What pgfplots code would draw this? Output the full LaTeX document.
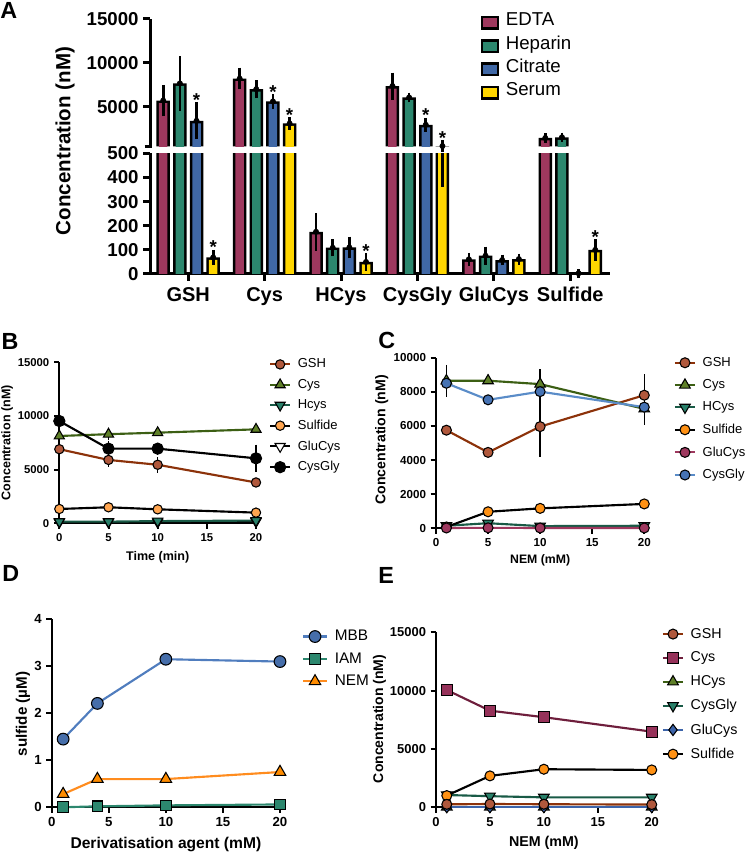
\documentclass[border=0pt]{standalone}
\usepackage{fontspec}
\setmainfont{Liberation Sans}
\usepackage{pgfplots}
\pgfplotsset{compat=1.18}
\usepackage{pgfplotstable}

\definecolor{edta}{RGB}{158,56,94}
\definecolor{hep}{RGB}{44,135,110}
\definecolor{cit}{RGB}{64,104,166}
\definecolor{ser}{RGB}{255,214,0}
\definecolor{gshF}{RGB}{176,88,60}
\definecolor{gshL}{RGB}{140,50,10}
\definecolor{cysF}{RGB}{95,128,40}
\definecolor{cysL}{RGB}{60,95,20}
\definecolor{hcyF}{RGB}{40,128,105}
\definecolor{hcyL}{RGB}{25,90,70}
\definecolor{sulB}{RGB}{255,165,80}
\definecolor{sulC}{RGB}{255,145,20}
\definecolor{glcF}{RGB}{158,56,94}
\definecolor{cgyF}{RGB}{70,115,180}
\definecolor{cgyL}{RGB}{90,140,200}
\definecolor{mbbF}{RGB}{70,110,170}
\definecolor{mbbL}{RGB}{80,125,190}
\definecolor{nemF}{RGB}{255,140,0}
\definecolor{nemL}{RGB}{255,140,30}
\definecolor{eCysF}{RGB}{150,50,90}
\definecolor{eCysL}{RGB}{110,30,60}
\definecolor{eGluF}{RGB}{60,100,170}

% Panel A: bar centres (category + offset), values and SD
\pgfplotstableread{
xe edta edtaE xh hep hepE xc cit citE xs ser serE
-0.327 5700 1300 -0.109 7650 2600 0.109 3400 1600 0.327 69 13
0.673 8200 750 0.891 7000 550 1.109 5600 320 1.327 3100 220
1.673 175 60 1.891 109 18 2.109 110 27 2.327 50 18
2.673 7350 1050 2.891 6050 80 3.109 2950 300 3.327 530 150
3.673 61 9 3.891 76 20 4.109 58 5 4.327 62 5
4.673 1450 50 4.891 1530 50 5.109 3 0 5.327 100 27
}\dataA

\pgfplotsset{
 base/.style={scale only axis, anchor=south west,
   axis x line*=bottom, axis y line*=left, tick align=outside,
   axis line style={line width=1.5pt,black},
   every tick/.append style={line width=1.5pt,black},
   major tick length=4pt,
   /pgf/number format/assume math mode=true,
   /pgf/number format/1000 sep={},
   scaled x ticks=false, scaled y ticks=false,
   clip=false, legend cell align=left},
 Ageom/.style={scale only axis, anchor=south west, xmin=-0.5, xmax=5.52, width=345pt},
 leg/.style n args={4}{legend style={at={(#1,#2)}, anchor=north west, draw=none, fill=none,
   inner xsep=0pt, inner ysep=0pt, nodes={inner sep=1pt}, row sep=#3, column sep=4pt,
   font=\fontsize{#4}{#4}\selectfont}},
 eb/.style={forget plot, only marks, mark=none, error bars/.cd, y dir=both, y explicit,
   error bar style={black, line width=1pt, solid},
   error mark options={black, line width=1pt, mark size=3pt}},
 ebA/.style={forget plot, only marks, mark=none, error bars/.cd, y dir=both, y explicit,
   error bar style={black, line width=2pt, solid},
   error mark options={black, line width=2pt, mark size=3.2pt}},
 % outline of a bar: a black bar underneath, the coloured bar narrower and lowered on top
 barOut/.style={forget plot, ybar, bar width=0.177, fill=black, draw=none},
 barIn/.style={ybar, bar width=0.111, fill=#1, draw=none, yshift=-1.9pt,
   legend image code/.code={\fill[black] (0pt,-5.25pt) rectangle (14pt,5.25pt);
     \fill[#1] (1.9pt,-3.35pt) rectangle (12.1pt,3.35pt);}},
 star/.style={forget plot, only marks, mark=none, nodes near coords={*},
   every node near coord/.style={anchor=south, inner sep=0pt, black,
   font=\bfseries\fontsize{14}{14}\selectfont}},
 pm/.style n args={5}{color=#1, line width=1.6pt, mark=#2, mark size=#3,
   mark options={fill=#4, draw=black, line width=0.8pt, solid, #5}},
}

\begin{document}
\begin{tikzpicture}
\path[use as bounding box] (0,0) rectangle (562.5pt,639.75pt);

% ---------------- Panel A (upper segment)
\begin{axis}[base, Ageom, at={(112.5pt,530pt)}, height=95.7pt,
  ymin=500, ymax=15000, ytick={5000,10000,15000},
  restrict y to domain=500:20000,
  hide x axis, clip=true,
  axis line style={line width=2.25pt}, every tick/.append style={line width=2.25pt},
  major tick length=5pt,
  yticklabel style={font=\bfseries\fontsize{14}{14}\selectfont},
  leg={0.718}{1.06}{3.6pt}{14}]
\addplot[barOut] table[x=xe, y=edta] {\dataA};
\addplot[barOut] table[x=xh, y=hep] {\dataA};
\addplot[barOut] table[x=xc, y=cit] {\dataA};
\addplot[barOut] table[x=xs, y=ser] {\dataA};
\addplot[barIn=edta] table[x=xe, y=edta] {\dataA};
\addlegendentry{EDTA}
\addplot[barIn=hep] table[x=xh, y=hep] {\dataA};
\addlegendentry{Heparin}
\addplot[barIn=cit] table[x=xc, y=cit] {\dataA};
\addlegendentry{Citrate}
\addplot[barIn=ser] table[x=xs, y=ser] {\dataA};
\addlegendentry{Serum}
\end{axis}
% upper segment: error bars and stars (not clipped)
\begin{axis}[Ageom, at={(112.5pt,530pt)}, height=95.7pt,
  ymin=500, ymax=15000, restrict y to domain=500:20000,
  hide x axis, hide y axis, clip=false]
\addplot[ebA] table[x=xe, y=edta, y error=edtaE] {\dataA};
\addplot[ebA] table[x=xh, y=hep, y error=hepE] {\dataA};
\addplot[ebA] table[x=xc, y=cit, y error=citE] {\dataA};
\addplot[ebA] table[x=xs, y=ser, y error=serE] {\dataA};
\addplot[star] coordinates {(0.109,5000) (1.109,5940) (1.327,3320) (3.109,3250) (3.327,680)};
\end{axis}

% ---------------- Panel A (lower segment)
\begin{axis}[base, Ageom, at={(112.5pt,434.25pt)}, height=90.4pt,
  ymin=0, ymax=500, ytick={0,100,200,300,400,500},
  xtick={0,1,2,3,4,5}, xticklabels={GSH,Cys,HCys,CysGly,GluCys,Sulfide},
  clip=true,
  axis line style={line width=2.25pt}, every tick/.append style={line width=2.25pt},
  major tick length=5pt,
  yticklabel style={font=\bfseries\fontsize{14}{14}\selectfont},
  xticklabel style={font=\bfseries\fontsize{15}{15}\selectfont, yshift=-1.5pt}]
\addplot[barOut] table[x=xe, y=edta] {\dataA};
\addplot[barOut] table[x=xh, y=hep] {\dataA};
\addplot[barOut] table[x=xc, y=cit] {\dataA};
\addplot[barOut] table[x=xs, y=ser] {\dataA};
\addplot[barIn=edta, forget plot] table[x=xe, y=edta] {\dataA};
\addplot[barIn=hep, forget plot] table[x=xh, y=hep] {\dataA};
\addplot[barIn=cit, forget plot] table[x=xc, y=cit] {\dataA};
\addplot[barIn=ser, forget plot] table[x=xs, y=ser] {\dataA};
\addplot[ebA] coordinates {(3.327,530) +- (0,150)};
\end{axis}
% lower segment: error bars and stars (not clipped)
\begin{axis}[Ageom, at={(112.5pt,434.25pt)}, height=90.4pt,
  ymin=0, ymax=500, restrict y to domain=0:500,
  hide x axis, hide y axis, clip=false]
\addplot[ebA] table[x=xe, y=edta, y error=edtaE] {\dataA};
\addplot[ebA] table[x=xh, y=hep, y error=hepE] {\dataA};
\addplot[ebA] table[x=xc, y=cit, y error=citE] {\dataA};
\addplot[ebA] table[x=xs, y=ser, y error=serE] {\dataA};
\addplot[star] coordinates {(0.327,82) (2.327,68) (5.327,127)};
\end{axis}
\draw[line width=2.25pt] (108.5pt,530pt) -- (114pt,530pt);
\node[rotate=90, font=\bfseries\fontsize{15.4}{16}\selectfont] at (48.75pt,534pt) {Concentration (nM)};
\node[anchor=north west, inner sep=0pt, font=\bfseries\fontsize{17.5}{18}\selectfont] at (0pt,638pt) {A};

% ---------------- Panel B
\begin{axis}[base, at={(44.5pt,247.3pt)}, width=147.5pt, height=120.75pt,
  xmin=0, xmax=20, ymin=0, ymax=15000, xtick={0,5,10,15,20}, ytick={0,5000,10000,15000},
  tick label style={font=\bfseries\fontsize{8.5}{9}\selectfont},
  xlabel={Time (min)}, ylabel={Concentration (nM)},
  label style={font=\bfseries\fontsize{9.4}{10}\selectfont},
  xlabel style={at={(axis description cs:0.5,-0.209)}, anchor=center},
  ylabel style={at={(axis description cs:-0.266,0.5)}, anchor=center},
  leg={1.065}{1.031}{5pt}{9.75},
  legend image code/.code={\draw[mark repeat=2,mark phase=2,#1] plot coordinates {(0pt,0pt) (7.5pt,0pt) (15pt,0pt)};}]
\addplot[eb] coordinates {(0,9525) +- (0,1100) (5,6950) +- (0,300) (10,6950) +- (0,200) (20,6050) +- (0,900)};
\addplot[eb] coordinates {(5,5900) +- (0,250) (10,5450) +- (0,350)};
\addplot[eb] coordinates {(5,8300) +- (0,200)};
\addplot[pm={gshL}{*}{3.5pt}{gshF}{}] coordinates {(0,6900) (5,5900) (10,5450) (20,3800)};
\addlegendentry{GSH}
\addplot[pm={cysL}{triangle*}{4.4pt}{cysF}{}] coordinates {(0,8130) (5,8300) (10,8440) (20,8750)};
\addlegendentry{Cys}
\addlegendimage{pm={hcyL}{triangle*}{4.4pt}{hcyF}{rotate=180}}
\addlegendentry{Hcys}
\addplot[pm={black}{*}{3.5pt}{sulB}{}] coordinates {(0,1330) (5,1490) (10,1300) (20,990)};
\addlegendentry{Sulfide}
\addplot[pm={black}{triangle*}{4.4pt}{white}{rotate=180}] coordinates {(0,100) (5,100) (10,100) (20,150)};
\addlegendentry{GluCys}
\addplot[pm={black}{*}{4.2pt}{black}{}] coordinates {(0,9525) (5,6950) (10,6950) (20,6050)};
\addlegendentry{CysGly}
\addplot[forget plot, pm={hcyL}{triangle*}{4.4pt}{hcyF}{rotate=180}] coordinates {(0,150) (5,150) (10,200) (20,250)};
\end{axis}
\node[anchor=north west, inner sep=0pt, font=\bfseries\fontsize{17.5}{18}\selectfont] at (1pt,390pt) {B};

% ---------------- Panel C
\begin{axis}[base, at={(327pt,243.5pt)}, width=156.2pt, height=128pt,
  xmin=0, xmax=20, ymin=0, ymax=10000, xtick={0,5,10,15,20}, ytick={0,2000,4000,6000,8000,10000},
  tick label style={font=\bfseries\fontsize{8.7}{9}\selectfont},
  xlabel={NEM (mM)}, ylabel={Concentration (nM)},
  xlabel style={font=\bfseries\fontsize{9.2}{10}\selectfont, at={(axis description cs:0.5,-0.186)}, anchor=center},
  ylabel style={font=\bfseries\fontsize{10.6}{11}\selectfont, at={(axis description cs:-0.261,0.518)}, anchor=center},
  leg={1.141}{1.012}{6.4pt}{9.75},
  legend image code/.code={\draw[mark repeat=2,mark phase=2,#1] plot coordinates {(0pt,0pt) (7.5pt,0pt) (15pt,0pt)};}]
\addplot[eb] coordinates {(1,8650) +- (0,700) (10,8450) +- (0,650) (20,7000) +- (0,700)};
\addplot[eb] coordinates {(10,5960) +- (0,1530) (20,7800) +- (0,1000)};
\addplot[eb] coordinates {(10,8010) +- (0,730)};
\addplot[pm={gshL}{*}{3.75pt}{gshF}{}] coordinates {(1,5750) (5,4450) (10,5960) (20,7800)};
\addlegendentry{GSH}
\addplot[pm={cysL}{triangle*}{4.6pt}{cysF}{}] coordinates {(1,8650) (5,8650) (10,8450) (20,7000)};
\addlegendentry{Cys}
\addplot[pm={hcyL}{triangle*}{4.6pt}{hcyF}{rotate=180}] coordinates {(1,150) (5,300) (10,130) (20,150)};
\addlegendentry{HCys}
\addplot[pm={black}{*}{3.75pt}{sulC}{}] coordinates {(1,80) (5,970) (10,1170) (20,1430)};
\addlegendentry{Sulfide}
\addplot[pm={glcF}{*}{3.75pt}{glcF}{}] coordinates {(1,20) (5,30) (10,20) (20,20)};
\addlegendentry{GluCys}
\addplot[pm={cgyL}{*}{3.75pt}{cgyF}{}] coordinates {(1,8500) (5,7530) (10,8010) (20,7100)};
\addlegendentry{CysGly}
\end{axis}
\node[anchor=north west, inner sep=0pt, font=\bfseries\fontsize{17.5}{18}\selectfont] at (283.5pt,391pt) {C};

% ---------------- Panel D
\begin{axis}[base, at={(38.8pt,34.3pt)}, width=171.2pt, height=141pt,
  xmin=0, xmax=20, ymin=0, ymax=4, xtick={0,5,10,15,20}, ytick={0,1,2,3,4},
  tick label style={font=\bfseries\fontsize{9.9}{10}\selectfont},
  xlabel={Derivatisation agent (mM)}, ylabel={sulfide (µM)},
  xlabel style={font=\bfseries\fontsize{11.7}{12}\selectfont, at={(axis description cs:0.5,-0.2)}, anchor=center},
  ylabel style={font=\bfseries\fontsize{11.4}{12}\selectfont, at={(axis description cs:-0.126,0.496)}, anchor=center},
  leg={1.095}{0.95}{5.4pt}{11.5},
  legend image code/.code={\draw[mark repeat=2,mark phase=2,#1] plot coordinates {(0pt,0pt) (9pt,0pt) (18pt,0pt)};}]
\addplot[pm={mbbL}{*}{4.4pt}{mbbF}{}] coordinates {(1,1.45) (4,2.21) (10,3.15) (20,3.10)};
\addlegendentry{MBB}
\addplot[pm={hep}{square*}{4pt}{hep}{}] coordinates {(1,0.0) (4,0.02) (10,0.04) (20,0.06)};
\addlegendentry{IAM}
\addplot[pm={nemL}{triangle*}{5pt}{nemF}{}] coordinates {(1,0.28) (4,0.6) (10,0.6) (20,0.75)};
\addlegendentry{NEM}
\end{axis}
\node[anchor=north west, inner sep=0pt, font=\bfseries\fontsize{17.5}{18}\selectfont] at (1.5pt,215.5pt) {D};

% ---------------- Panel E
\begin{axis}[base, at={(327pt,34.3pt)}, width=161.8pt, height=131.25pt,
  xmin=0, xmax=20, ymin=0, ymax=15000, xtick={0,5,10,15,20}, ytick={0,5000,10000,15000},
  tick label style={font=\bfseries\fontsize{9.7}{10}\selectfont},
  xlabel={NEM (mM)}, ylabel={Concentration (nM)},
  xlabel style={font=\bfseries\fontsize{10.7}{11}\selectfont, at={(axis description cs:0.5,-0.204)}, anchor=center},
  ylabel style={font=\bfseries\fontsize{10.5}{11}\selectfont, at={(axis description cs:-0.262,0.505)}, anchor=center},
  leg={1.046}{1.033}{6.9pt}{10.7},
  legend image code/.code={\draw[mark repeat=2,mark phase=2,#1] plot coordinates {(0pt,0pt) (7.5pt,0pt) (15pt,0pt)};}]
\addlegendimage{pm={gshL}{*}{3.75pt}{gshF}{}}
\addlegendentry{GSH}
\addplot[pm={eCysL}{square*}{4.1pt}{eCysF}{}] coordinates {(1,10050) (5,8280) (10,7720) (20,6480)};
\addlegendentry{Cys}
\addplot[pm={cysL}{triangle*}{4.6pt}{cysF}{}] coordinates {(1,30) (5,30) (10,30) (20,30)};
\addlegendentry{HCys}
\addplot[pm={hcyL}{triangle*}{4.6pt}{hcyF}{rotate=180}] coordinates {(1,1050) (5,950) (10,850) (20,850)};
\addlegendentry{CysGly}
\addplot[pm={eGluF}{diamond*}{4.2pt}{eGluF}{}] coordinates {(1,10) (5,10) (10,10) (20,10)};
\addlegendentry{GluCys}
\addplot[pm={black}{*}{3.75pt}{sulC}{}] coordinates {(1,1000) (5,2690) (10,3260) (20,3200)};
\addlegendentry{Sulfide}
\addplot[forget plot, pm={gshL}{*}{3.75pt}{gshF}{}] coordinates {(1,250) (5,280) (10,260) (20,230)};
\end{axis}
\node[anchor=north west, inner sep=0pt, font=\bfseries\fontsize{17.5}{18}\selectfont] at (283.5pt,214pt) {E};
\end{tikzpicture}
\end{document}
